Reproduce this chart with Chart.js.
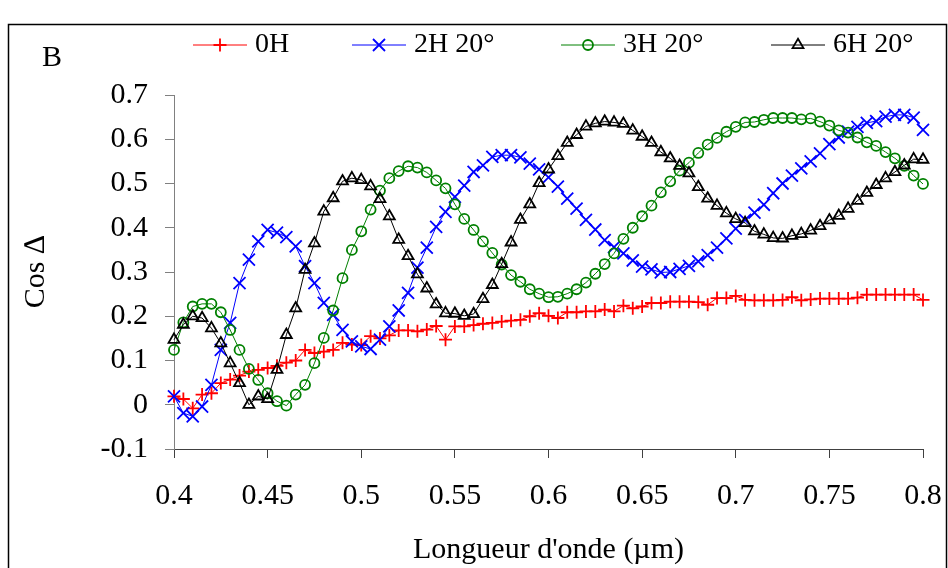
<!DOCTYPE html>
<html><head><meta charset="utf-8">
<script src="https://cdn.jsdelivr.net/npm/chart.js@4/dist/chart.umd.min.js"></script>
<style>html,body{margin:0;padding:0;background:#fff;}canvas{display:block;}</style>
</head><body>
<canvas id="c" width="948" height="568"></canvas>
<script>
const wavelengths = [0.400,0.405,0.410,0.415,0.420,0.425,0.430,0.435,0.440,0.445,0.450,0.455,0.460,0.465,0.470,0.475,0.480,0.485,0.490,0.495,
0.500,0.505,0.510,0.515,0.520,0.525,0.530,0.535,0.540,0.545,0.550,0.555,0.560,0.565,0.570,0.575,0.580,0.585,0.590,0.595,
0.600,0.605,0.610,0.615,0.620,0.625,0.630,0.635,0.640,0.645,0.650,0.655,0.660,0.665,0.670,0.675,0.680,0.685,0.690,0.695,
0.700,0.705,0.710,0.715,0.720,0.725,0.730,0.735,0.740,0.745,0.750,0.755,0.760,0.765,0.770,0.775,0.780,0.785,0.790,0.795,0.800];

const seriesNames = ['0H', '2H 20°', '3H 20°', '6H 20°'];

const values0H = [0.019,0.013,-0.008,0.023,0.026,0.049,0.057,0.066,0.075,0.079,0.083,0.088,0.095,0.1,0.124,0.117,0.12,0.124,0.14,0.136,
0.135,0.155,0.15,0.157,0.168,0.168,0.166,0.17,0.178,0.147,0.177,0.177,0.18,0.183,0.185,0.188,0.19,0.192,0.2,
0.207,0.201,0.196,0.209,0.209,0.211,0.211,0.215,0.211,0.224,0.218,0.222,0.23,0.23,0.233,0.233,0.233,0.232,0.226,0.241,0.241,0.246,0.237,0.236,0.236,0.236,0.237,0.243,0.236,0.238,0.24,0.24,0.24,0.24,0.242,0.249,0.249,0.249,0.249,0.249,0.249,0.237];

const values2H = [0.019,-0.019,-0.026,-0.004,0.045,0.124,0.185,0.275,0.328,0.369,0.395,0.389,0.379,0.358,0.313,0.275,0.23,0.203,0.169,0.143,
0.132,0.126,0.147,0.177,0.213,0.253,0.31,0.355,0.402,0.436,0.47,0.495,0.526,0.541,0.56,0.564,0.564,0.559,0.545,0.532,0.514,0.493,0.466,0.443,0.418,0.396,0.372,0.356,0.342,0.326,0.312,0.306,0.299,0.3,0.307,0.314,0.324,0.338,0.355,0.376,0.398,0.418,0.434,0.452,0.478,0.5,0.518,0.534,0.55,0.568,0.589,0.604,0.617,0.628,0.637,0.641,0.651,0.655,0.655,0.649,0.621];

const values3H = [0.124,0.186,0.222,0.228,0.228,0.209,0.169,0.124,0.081,0.056,0.026,0.008,-0.002,0.023,0.045,0.094,0.151,0.213,0.286,0.35,
0.392,0.441,0.484,0.512,0.528,0.539,0.536,0.525,0.507,0.489,0.453,0.42,0.395,0.369,0.343,0.317,0.293,0.278,0.261,0.251,0.243,0.244,0.251,0.261,0.276,0.296,0.318,0.342,0.375,0.4,0.426,0.45,0.48,0.505,0.529,0.547,0.569,0.588,0.603,0.617,0.628,0.638,0.639,0.644,0.648,0.648,0.648,0.645,0.647,0.64,0.631,0.62,0.615,0.604,0.593,0.585,0.571,0.557,0.54,0.518,0.499];

const values6H = [0.147,0.181,0.2,0.196,0.173,0.139,0.094,0.049,0.0,0.019,0.013,0.079,0.158,0.218,0.305,0.365,0.437,0.467,0.505,0.512,
0.508,0.494,0.465,0.426,0.373,0.336,0.295,0.263,0.227,0.207,0.206,0.201,0.205,0.239,0.271,0.318,0.367,0.418,0.453,0.501,0.532,0.562,0.592,0.61,0.629,0.636,0.64,0.638,0.635,0.62,0.606,0.592,0.571,0.557,0.54,0.523,0.492,0.466,0.45,0.433,0.42,0.411,0.392,0.385,0.377,0.376,0.382,0.386,0.394,0.404,0.417,0.427,0.443,0.461,0.479,0.497,0.512,0.526,0.541,0.555,0.554];

const xTicks = [0.4,0.45,0.5,0.55,0.6,0.65,0.7,0.75,0.8];
const xTickLabels = ['0.4','0.45','0.5','0.55','0.6','0.65','0.7','0.75','0.8'];
const yTicks = [-0.1,0,0.1,0.2,0.3,0.4,0.5,0.6,0.7];
const yTickLabels = ['-0.1','0','0.1','0.2','0.3','0.4','0.5','0.6','0.7'];

const FONT = '"Liberation Serif", "Times New Roman", serif';
Chart.defaults.font.family = FONT;
Chart.defaults.color = '#000';

const pts = vals => wavelengths.map((w, i) => ({x: w, y: vals[i]}));

function mkDs(label, vals, color, style, r, order) {
  return {
    label, data: pts(vals), borderColor: color, backgroundColor: color,
    borderWidth: 1, tension: 0, showLine: true, clip: false, order,
    pointStyle: style, pointRadius: r, pointHoverRadius: r,
    pointBorderColor: color, pointBackgroundColor: 'rgba(0,0,0,0)', pointBorderWidth: 1.8
  };
}

const refDecor = {
  id: 'refDecor',
  afterDraw(chart) {
    const ctx = chart.ctx;
    ctx.save();
    ctx.strokeStyle = '#000'; ctx.lineWidth = 1.5;
    ctx.strokeRect(8.5, 24.5, 938, 600);
    ctx.fillStyle = '#000';
    ctx.font = '30px ' + FONT;
    ctx.textBaseline = 'middle'; ctx.textAlign = 'left';
    ctx.fillText('B', 42, 58);
    const lineX = [193, 352, 561, 771];
    const ly = 45;
    ctx.font = '28px ' + FONT;
    chart.data.datasets.forEach((ds, k) => {
      const x0 = lineX[k];
      ctx.strokeStyle = ds.borderColor; ctx.lineWidth = 1;
      ctx.beginPath(); ctx.moveTo(x0, ly); ctx.lineTo(x0 + 54, ly); ctx.stroke();
      ctx.strokeStyle = ds.pointBorderColor; ctx.fillStyle = ds.pointBackgroundColor;
      ctx.lineWidth = ds.pointBorderWidth;
      Chart.helpers.drawPoint(ctx, {pointStyle: ds.pointStyle, radius: ds.pointRadius, borderWidth: ds.pointBorderWidth, rotation: 0}, x0 + 27, ly);
      ctx.fillStyle = '#000';
      ctx.fillText(ds.label, x0 + 62, ly);
    });
    ctx.restore();
  }
};

new Chart(document.getElementById('c'), {
  type: 'line',
  data: {
    datasets: [
      mkDs(seriesNames[0], values0H, '#FF0000', 'cross', 6.5, 4),
      mkDs(seriesNames[1], values2H, '#0000FF', 'crossRot', 8.5, 3),
      mkDs(seriesNames[2], values3H, '#008000', 'circle', 5, 2),
      mkDs(seriesNames[3], values6H, '#000000', 'triangle', 6.3, 1)
    ]
  },
  options: {
    responsive: false, animation: false, devicePixelRatio: 1,
    layout: {padding: {left: 0, top: 95, right: 25, bottom: 0}},
    plugins: {legend: {display: false}, tooltip: {enabled: false}},
    scales: {
      x: {
        type: 'linear', min: 0.4, max: 0.8,
        afterBuildTicks: s => { s.ticks = xTicks.map(v => ({value: v})); },
        afterFit: s => { s.height = 119; s.paddingLeft = 0; s.paddingRight = 0; },
        ticks: {font: {size: 30}, color: '#000', padding: 20, maxRotation: 0, autoSkip: false,
          callback: (v, i) => xTickLabels[i]},
        grid: {display: true, drawOnChartArea: false, drawTicks: true, tickLength: 9, color: '#404040'},
        border: {display: true, color: '#404040', width: 1},
        title: {display: true, text: "Longueur d'onde (µm)", font: {size: 30}, color: '#000', padding: {top: 2, bottom: 0}}
      },
      y: {
        type: 'linear', min: -0.1, max: 0.7,
        afterBuildTicks: s => { s.ticks = yTicks.map(v => ({value: v})); },
        afterFit: s => { s.width = 174; s.paddingTop = 0; s.paddingBottom = 0; },
        ticks: {font: {size: 30}, color: '#000', padding: 17, autoSkip: false,
          callback: (v, i) => yTickLabels[i]},
        grid: {display: true, drawOnChartArea: false, drawTicks: true, tickLength: 9, color: '#808080'},
        border: {display: true, color: '#808080', width: 1},
        title: {display: true, text: 'Cos ∆', font: {size: 30}, color: '#000', padding: {top: 18, bottom: 0}}
      }
    }
  },
  plugins: [refDecor]
});
</script>
</body></html>
